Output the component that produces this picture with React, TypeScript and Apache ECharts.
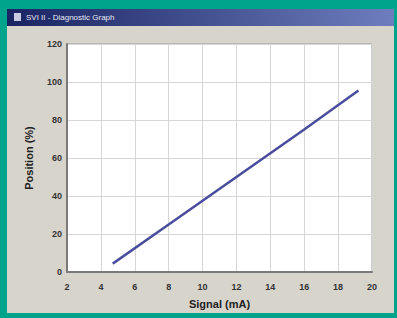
import React, { useEffect, useRef } from "react";
import * as echarts from "echarts";

const windowTitle = "SVI II - Diagnostic Graph";
const xAxisName = "Signal (mA)";
const yAxisName = "Position (%)";
const signalValues = [4.7, 8, 12, 16, 19.2];
const positionValues = [4.4, 25, 50, 75, 95.5];
const xTicks = { min: 2, max: 20, interval: 2 };
const yTicks = { min: 0, max: 120, interval: 20 };

export default function App() {
  const ref = useRef<HTMLDivElement>(null);
  useEffect(() => {
    if (!ref.current) return;
    const chart = echarts.init(ref.current, null, { renderer: "svg" });
    const data = signalValues.map((s, i) => [s, positionValues[i]]);
    chart.setOption({
      animation: false,
      backgroundColor: "#00a38b",
      graphic: [
        { type: "rect", shape: { x: 7, y: 9, width: 387, height: 304 }, style: { fill: "#d7d4cc" }, silent: true, z: -10 },
        {
          type: "rect",
          shape: { x: 7, y: 9, width: 387, height: 17 },
          style: {
            fill: new echarts.graphic.LinearGradient(0, 0, 1, 0, [
              { offset: 0, color: "#1a2462" },
              { offset: 1, color: "#6d7dbd" },
            ]),
          },
          silent: true,
          z: -9,
        },
        { type: "rect", shape: { x: 14, y: 13, width: 7, height: 8 }, style: { fill: "#c8cce0" }, silent: true, z: -8 },
        {
          type: "text",
          x: 26,
          y: 17.5,
          style: { text: windowTitle, fill: "#e8eaf4", font: "8px Arial", textVerticalAlign: "middle" },
          silent: true,
          z: -8,
        },
      ],
      grid: {
        left: 67,
        top: 44,
        width: 305,
        height: 228,
        show: true,
        backgroundColor: "#ffffff",
        borderColor: "#9a9a9a",
        borderWidth: 1,
      },
      xAxis: {
        type: "value",
        min: xTicks.min,
        max: xTicks.max,
        interval: xTicks.interval,
        name: xAxisName,
        nameLocation: "middle",
        nameGap: 26,
        nameTextStyle: { fontFamily: "Arial", fontWeight: "bold", fontSize: 11, color: "#222" },
        axisLine: { show: true, onZero: false, lineStyle: { color: "#7a7a7a", width: 2 } },
        axisTick: { show: false },
        axisLabel: { fontFamily: "Arial", fontSize: 9, color: "#333", margin: 10, fontWeight: "bold" },
        splitLine: { show: true, lineStyle: { color: "#d6d6d6", width: 1 } },
      },
      yAxis: {
        type: "value",
        min: yTicks.min,
        max: yTicks.max,
        interval: yTicks.interval,
        name: yAxisName,
        nameLocation: "middle",
        nameGap: 33,
        nameTextStyle: { fontFamily: "Arial", fontWeight: "bold", fontSize: 11, color: "#222" },
        axisLine: { show: true, onZero: false, lineStyle: { color: "#7a7a7a", width: 2 } },
        axisTick: { show: false },
        axisLabel: { fontFamily: "Arial", fontSize: 9, color: "#333", margin: 5, fontWeight: "bold" },
        splitLine: { show: true, lineStyle: { color: "#d6d6d6", width: 1 } },
      },
      series: [
        {
          type: "line",
          data,
          symbol: "none",
          lineStyle: { color: "#4a4c9e", width: 2.5 },
        },
      ],
    });
    return () => chart.dispose();
  }, []);
  return <div ref={ref} style={{ position: "absolute", left: 0, top: 0, width: 397, height: 318 }} />;
}
